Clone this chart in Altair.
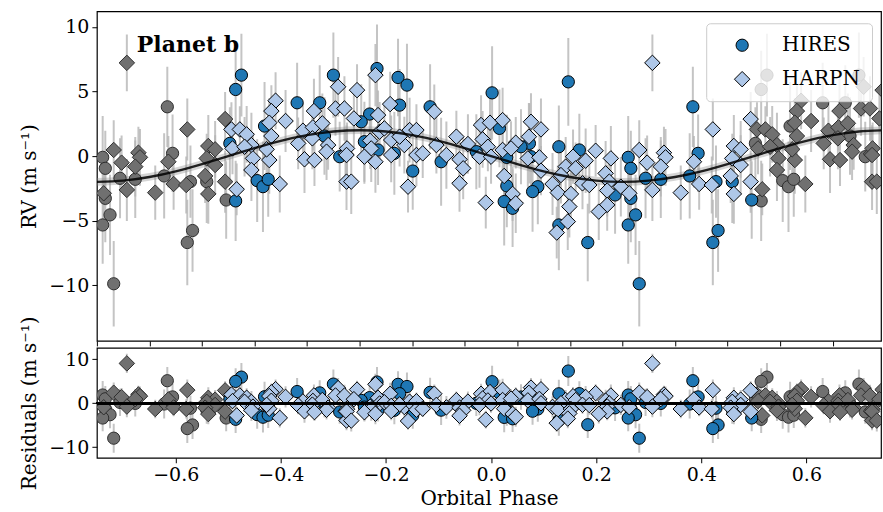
import altair as alt
import numpy as np
import pandas as pd

# ---------------- data ----------------
hires_phase = [-0.475, -0.486, -0.431, -0.497, -0.369, -0.326, -0.300, -0.317, -0.288, -0.445,
               -0.434, -0.424, -0.486, -0.217, -0.177, -0.160, -0.174, -0.116, -0.231, -0.247,
               -0.241, -0.215, -0.184, -0.149, -0.095, -0.028, 0.002, 0.147, 0.016, 0.129,
               0.168, 0.073, 0.057, 0.030, 0.076, 0.030, 0.089, 0.079, 0.025, 0.041,
               0.129, 0.184, 0.384, 0.394, 0.261, 0.266, 0.294, 0.323, 0.378, 0.428,
               0.459, 0.236, 0.266, 0.275, 0.261, 0.432, 0.422, 0.282, 0.496]
hires_rv = [6.26, 5.15, 2.32, 0.98, 4.12, 4.12, 6.26, 1.55, -0.05, -1.90,
            -2.37, -1.80, -3.47, 6.77, 6.08, 5.49, 3.94, 3.81, 3.25, 2.65,
            1.11, 0.47, 0.21, -1.16, -0.44, 0.34, 4.89, 5.74, 2.14, 0.72,
            0.47, 0.98, 0.72, -0.10, -0.05, -2.31, -2.37, -2.75, -3.52, -4.04,
            -5.33, -6.69, 3.81, 0.21, -0.10, -0.95, -1.72, -1.80, -1.54, -1.98,
            -1.98, -3.01, -3.27, -4.55, -5.33, -5.76, -6.69, -9.88, -3.40]
hires_err = [3.2, 3.0, 3.4, 2.8, 3.1, 2.9, 3.3, 3.0, 2.7, 3.2,
             3.5, 2.9, 3.1, 3.4, 3.0, 3.2, 2.8, 3.3, 3.0, 2.9,
             3.1, 2.7, 3.2, 3.0, 3.4, 2.9, 3.6, 3.4, 3.0, 3.2,
             2.8, 3.1, 2.9, 3.3, 3.0, 3.2, 2.9, 3.1, 3.4, 3.0,
             3.5, 3.0, 3.1, 3.0, 3.2, 2.9, 3.1, 3.0, 3.3, 2.8,
             3.2, 3.0, 3.4, 3.1, 3.0, 3.2, 3.3, 3.3, 3.0]

harpn_phase = [-0.410, -0.418, -0.391, -0.422, -0.418, -0.494, -0.478, -0.465, -0.456, -0.492,
               -0.469, -0.453, -0.422, -0.427, -0.456, -0.484, -0.402, -0.337, -0.358, -0.339,
               -0.321, -0.367, -0.340, -0.310, -0.313, -0.355, -0.336, -0.291, -0.296, -0.279,
               -0.277, -0.275,
               -0.220, -0.255, -0.261, -0.215, -0.192, -0.108, -0.212, -0.203, -0.230, -0.228,
               -0.274, -0.275, -0.241, -0.220, -0.190, -0.165, -0.155, -0.142, -0.174, -0.190,
               -0.142, -0.130, -0.104, -0.085, -0.066, -0.044, -0.060, -0.053, -0.060, -0.158,
               -0.266,
               -0.019, -0.002, 0.022, 0.076, 0.095, 0.199, -0.016, -0.006, -0.022, 0.000,
               0.022, 0.047, 0.072, 0.038, 0.070, 0.092, 0.095, 0.142, 0.156, 0.180,
               0.161, 0.133, 0.117, 0.127, 0.152, 0.174, 0.187, 0.025, 0.041, 0.047,
               -0.010, 0.149, 0.146, 0.125,
               0.307, 0.422, 0.494, 0.282, 0.329, 0.332, 0.228, 0.297, 0.323, 0.386,
               0.462, 0.475, 0.459, 0.475, 0.456, 0.494, 0.396, 0.420, 0.218, 0.225,
               0.247, 0.221, 0.263, 0.307, 0.361, 0.462, 0.221, 0.205]
harpn_rv = [4.28, 3.48, 2.71, 2.58, 1.55, 2.06, 2.06, 1.68, 0.85, 0.59,
            0.72, -0.18, -0.31, 0.52, -1.08, -2.57, -2.16, 3.48, 1.96, 2.22,
            2.53, 0.98, 1.37, 0.85, 0.34, -0.25, -0.31, 5.36, 3.68, 3.68,
            0.16, -1.98,
            6.26, 5.10, 2.91, 3.17, 4.02, 3.43, 1.88, 2.14, 1.19, 0.59,
            0.59, 0.08, -0.05, -0.44, 1.24, 0.85, 2.01, 2.01, 1.50, 0.08,
            0.08, 0.21, 0.85, 0.08, 1.50, 0.93, -0.26, -0.95, -2.11, -2.37,
            -1.98,
            2.40, 2.58, 2.78, 2.65, 2.06, 0.41, 1.29, 0.72, -0.05, -0.05,
            0.47, 1.03, 1.50, 0.59, -0.18, -0.10, -1.13, -0.82, -0.05, -0.36,
            -0.95, -1.47, -2.16, -2.83, -2.93, -2.11, -2.24, -1.54, -2.93, -3.65,
            -3.60, -3.91, -5.07, -5.92,
            7.21, 2.06, 2.86, 0.47, 0.26, -0.10, -0.18, -0.51, -0.82, -0.44,
            0.78, 0.52, -0.18, -0.69, -1.54, -1.98, -2.16, -2.24, -1.34, -1.98,
            -2.37, -2.67, -2.88, -2.62, -2.83, -2.93, -3.78, -4.30]
harpn_err = [2.2, 2.0, 2.4, 1.9, 2.3, 2.1, 1.8, 2.2, 2.5, 2.0,
             2.3, 1.9, 2.6, 2.1, 2.4, 2.0, 2.2, 2.5, 2.1, 1.8,
             2.3, 2.0, 2.4, 1.9, 2.2, 2.6, 2.0, 2.3, 2.1, 2.5,
             1.9, 2.2,
             2.4, 2.0, 2.2, 1.9, 2.5, 2.1, 2.3, 1.8, 2.2, 2.6,
             2.0, 2.3, 2.1, 2.4, 1.9, 2.2, 2.5, 2.0, 2.3, 2.1,
             2.4, 1.9, 2.2, 2.6, 2.0, 2.3, 2.1, 2.4, 2.2, 2.0,
             2.5,
             2.3, 2.0, 2.5, 2.2, 2.4, 2.0, 2.2, 1.9, 2.4, 2.1,
             2.3, 2.0, 2.6, 2.1, 2.2, 2.4, 1.9, 2.3, 2.1, 2.5,
             2.0, 2.2, 2.4, 2.1, 2.3, 2.0, 2.2, 2.5, 2.1, 2.3,
             2.0, 2.4, 2.2, 2.0,
             2.2, 2.4, 2.1, 2.3, 2.0, 2.2, 2.5, 2.1, 2.3, 2.0,
             2.4, 2.2, 1.9, 2.3, 2.1, 2.4, 2.0, 2.2, 2.5, 2.1,
             2.3, 2.0, 2.2, 2.4, 2.1, 2.3, 2.0, 2.2]

# Keplerian model curve (every 0.05 in phase)
model_phase = [-0.75, -0.70, -0.65, -0.60, -0.55, -0.50, -0.45, -0.40, -0.35, -0.30, -0.25,
               -0.20, -0.15, -0.10, -0.05, 0.00, 0.05, 0.10, 0.15, 0.20, 0.25,
               0.30, 0.35, 0.40, 0.45, 0.50, 0.55, 0.60, 0.65, 0.70, 0.75]
model_rv = [-2.00, -1.90, -1.62, -1.18, -0.62, 0.00, 0.62, 1.18, 1.62, 1.90, 2.00,
            1.90, 1.62, 1.18, 0.62, 0.00, -0.62, -1.18, -1.62, -1.90, -2.00,
            -1.90, -1.62, -1.18, -0.62, 0.00, 0.62, 1.18, 1.62, 1.90, 2.00]
band_half = 0.3

# x tick positions (minor every 0.05) and labelled ones
tick_vals = [-0.75, -0.70, -0.65, -0.60, -0.55, -0.50, -0.45, -0.40, -0.35, -0.30, -0.25,
             -0.20, -0.15, -0.10, -0.05, 0.00, 0.05, 0.10, 0.15, 0.20, 0.25,
             0.30, 0.35, 0.40, 0.45, 0.50, 0.55, 0.60, 0.65, 0.70, 0.75]
label_vals = [-0.6, -0.4, -0.2, 0.0, 0.2, 0.4, 0.6]

# ---------------- tables ----------------
rows = []
for inst, ph, rv, er in [("HIRES", hires_phase, hires_rv, hires_err),
                         ("HARPN", harpn_phase, harpn_rv, harpn_err)]:
    for p, v, e in zip(ph, rv, er):
        m = float(np.interp(p, model_phase, model_rv))
        rows.append(dict(phase=p, rv=v, err=e, inst=inst, resid=v - m))
df = pd.DataFrame(rows)
df["rv_lo"] = df.rv - df.err
df["rv_hi"] = df.rv + df.err
df["res_lo"] = df.resid - df.err
df["res_hi"] = df.resid + df.err

left = df[df.phase > 0.25].copy()
left["phase"] = left.phase - 1
right = df[df.phase < -0.25].copy()
right["phase"] = right.phase + 1
grey = pd.concat([left, right], ignore_index=True)

allpts = pd.concat([df, grey], ignore_index=True)

model_df = pd.DataFrame({"phase": model_phase, "rv": model_rv})
model_df["lo"] = model_df.rv - band_half
model_df["hi"] = model_df.rv + band_half

# ---------------- styling ----------------
FONT = "DejaVu Serif"
W, H1, H2 = 785, 330, 110
xs = alt.Scale(domain=[-0.75, 0.742], nice=False, zero=False)
ys1 = alt.Scale(domain=[-14.3, 11.2], nice=False, zero=False)
ys2 = alt.Scale(domain=[-12.4, 12.6], nice=False, zero=False)

x_top = alt.X("phase:Q", scale=xs,
              axis=alt.Axis(values=tick_vals, labels=False, title=None))
x_bot = alt.X("phase:Q", scale=xs,
              axis=alt.Axis(values=label_vals, format=".1f", title="Orbital Phase",
                            titlePadding=4))

y1_axis = alt.Axis(values=[-10, -5, 0, 5, 10], title="RV (m s⁻¹)",
                   minExtent=49, maxExtent=49, titlePadding=8)
y2_axis = alt.Axis(values=[-10, 0, 10], title="Residuals (m s⁻¹)",
                   minExtent=49, maxExtent=49, titlePadding=8)

ERR_COLOR = "#b5b5b5"
GREY_FILL = "#707070"
GREY_EDGE = "#2e2e2e"
DOM = ["HIRES", "HARPN"]

legend = alt.Legend(title=None, orient="none", legendX=610, legendY=12,
                    fillColor="rgba(255,255,255,0.8)", strokeColor="#cccccc",
                    cornerRadius=4, padding=12, labelFont=FONT, labelFontSize=20,
                    labelOffset=30, symbolOffset=14, rowPadding=14,
                    symbolStrokeColor="black", symbolStrokeWidth=1)
fill_enc = alt.Fill("inst:N", scale=alt.Scale(domain=DOM, range=["#1f77b4", "#aec7e8"]),
                    legend=legend)
stroke_enc = alt.Stroke("inst:N", scale=alt.Scale(domain=DOM, range=["black", "black"]),
                        legend=legend)
shape_enc = alt.Shape("inst:N", scale=alt.Scale(domain=DOM, range=["circle", "diamond"]),
                      legend=legend)
size_enc = alt.Size("inst:N", scale=alt.Scale(domain=DOM, range=[150, 240]), legend=legend)


def panel(ycol, lo, hi, yscale, yaxis, xenc, height, top):
    base_err = alt.Chart(allpts).mark_rule(color=ERR_COLOR, strokeWidth=2, opacity=0.8, clip=True).encode(
        x=xenc, y=alt.Y(f"{lo}:Q", scale=yscale, axis=yaxis), y2=f"{hi}:Q")
    layers = [base_err]
    if top:
        band = alt.Chart(model_df).mark_area(color="#888888", opacity=0.35, interpolate="natural",
                                             clip=True).encode(
            x="phase:Q", y="lo:Q", y2="hi:Q")
        layers.append(band)
    g_circ = alt.Chart(grey).transform_filter("datum.inst == 'HIRES'").mark_point(
        shape="circle", size=150, filled=True, fill=GREY_FILL, stroke=GREY_EDGE,
        strokeWidth=1, opacity=1, clip=True).encode(x="phase:Q", y=f"{ycol}:Q")
    g_diam = alt.Chart(grey).transform_filter("datum.inst == 'HARPN'").mark_point(
        shape="diamond", size=240, filled=True, fill=GREY_FILL, stroke=GREY_EDGE,
        strokeWidth=1, opacity=1, clip=True).encode(x="phase:Q", y=f"{ycol}:Q")
    layers += [g_circ, g_diam]
    if top:
        pts = alt.Chart(df).mark_point(filled=True, strokeWidth=1, opacity=1,
                                       clip=True).encode(
            x="phase:Q", y=f"{ycol}:Q", fill=fill_enc, stroke=stroke_enc,
            shape=shape_enc, size=size_enc)
        layers.append(pts)
        line = alt.Chart(model_df).mark_line(color="black", strokeWidth=2.4, opacity=0.85,
                                             interpolate="natural", clip=True).encode(
            x="phase:Q", y="rv:Q")
        layers.append(line)
        txt = alt.Chart(pd.DataFrame({"t": ["Planet b"]})).mark_text(
            font=FONT, fontSize=22, fontWeight="bold", align="left", baseline="alphabetic",
            color="black").encode(x=alt.value(40), y=alt.value(41), text="t:N")
        layers.append(txt)
    else:
        c = alt.Chart(df).transform_filter("datum.inst == 'HIRES'").mark_point(
            shape="circle", size=150, filled=True, fill="#1f77b4", stroke="black",
            strokeWidth=1, opacity=1, clip=True).encode(x="phase:Q", y=f"{ycol}:Q")
        d = alt.Chart(df).transform_filter("datum.inst == 'HARPN'").mark_point(
            shape="diamond", size=240, filled=True, fill="#aec7e8", stroke="black",
            strokeWidth=1, opacity=1, clip=True).encode(x="phase:Q", y=f"{ycol}:Q")
        zero = alt.Chart(model_df).mark_rule(color="black", strokeWidth=2).encode(y=alt.datum(0))
        layers += [c, d, zero]
    return alt.layer(*layers).properties(width=W, height=height)


top = panel("rv", "rv_lo", "rv_hi", ys1, y1_axis, x_top, H1, True)
bot = panel("resid", "res_lo", "res_hi", ys2, y2_axis, x_bot, H2, False)

chart = alt.vconcat(top, bot, spacing=7, bounds="flush").resolve_legend(
    fill="independent", shape="independent", size="independent", stroke="independent"
).resolve_scale(x="independent", fill="independent", shape="independent", size="independent",
                stroke="independent").resolve_axis(x="independent").properties(
    padding={"left": 19, "top": 10, "right": 0, "bottom": 0}
).configure_axis(
    labelFont=FONT, labelFontSize=19, titleFont=FONT, titleFontSize=20,
    titleFontWeight="normal", labelColor="black", titleColor="black",
    tickColor="black", tickSize=5, tickWidth=1, domain=False, grid=False, labelPadding=3
).configure_view(stroke="black", strokeWidth=1.2)

chart.save("out.html", embed_options={"renderer": "svg", "actions": False})
